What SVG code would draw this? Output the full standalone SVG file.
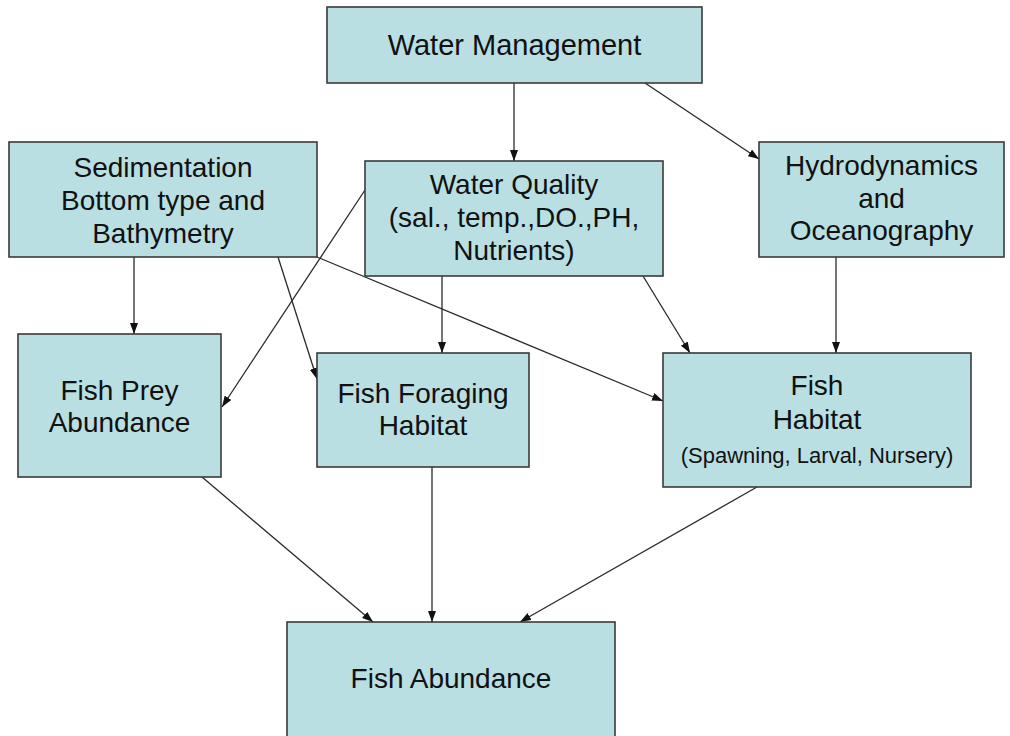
<svg xmlns="http://www.w3.org/2000/svg" width="1010" height="736" viewBox="0 0 1010 736">
<style>
.box{fill:#b9dfe2;stroke:#3a3a3a;stroke-width:1.6}
.t{font-family:"Liberation Sans",Arial,sans-serif;font-size:28px;fill:#111;text-anchor:middle}
.s{font-size:22px}
.c{stroke:#2a2a2a;stroke-width:1.3;fill:none;marker-end:url(#ah)}
</style>
<defs>
<marker id="ah" markerUnits="userSpaceOnUse" markerWidth="11" markerHeight="8" refX="11" refY="4" orient="auto">
<path d="M0,0 L11,4 L0,8 z" fill="#111"/>
</marker>
</defs>
<rect width="1010" height="736" fill="#ffffff"/>
<g id="connectors">
<line class="c" x1="514" y1="83" x2="514" y2="161"/>
<line class="c" x1="645" y1="83" x2="759" y2="159"/>
<line class="c" x1="134" y1="257" x2="134" y2="334"/>
<line class="c" x1="278" y1="257" x2="317" y2="379"/>
<line class="c" x1="317" y1="257" x2="663" y2="401"/>
<line class="c" x1="365" y1="190" x2="222" y2="407"/>
<line class="c" x1="442" y1="276" x2="442" y2="353"/>
<line class="c" x1="643" y1="276" x2="690" y2="353"/>
<line class="c" x1="836" y1="257" x2="836" y2="353"/>
<line class="c" x1="202" y1="477" x2="373" y2="622"/>
<line class="c" x1="432" y1="467" x2="432" y2="622"/>
<line class="c" x1="757" y1="487" x2="520" y2="622"/>
</g>
<g id="water-management">
<rect class="box" x="327" y="7" width="375" height="76"/>
<text class="t" x="514.5" y="55" style="font-size:29px">Water Management</text>
</g>
<g id="sedimentation">
<rect class="box" x="9" y="142" width="308" height="115"/>
<text class="t" x="163" y="177">Sedimentation</text>
<text class="t" x="163" y="210">Bottom type and</text>
<text class="t" x="163" y="243">Bathymetry</text>
</g>
<g id="water-quality">
<rect class="box" x="365" y="161" width="298" height="115"/>
<text class="t" x="514" y="194">Water Quality</text>
<text class="t" x="514" y="227">(sal., temp.,DO.,PH,</text>
<text class="t" x="514" y="260">Nutrients)</text>
</g>
<g id="hydrodynamics">
<rect class="box" x="759" y="142" width="245" height="115"/>
<text class="t" x="881.5" y="175">Hydrodynamics</text>
<text class="t" x="881.5" y="208">and</text>
<text class="t" x="881.5" y="240">Oceanography</text>
</g>
<g id="fish-prey">
<rect class="box" x="18" y="334" width="203" height="143"/>
<text class="t" x="119.5" y="400">Fish Prey</text>
<text class="t" x="119.5" y="432">Abundance</text>
</g>
<g id="fish-foraging">
<rect class="box" x="317" y="353" width="212" height="114"/>
<text class="t" x="423" y="403">Fish Foraging</text>
<text class="t" x="423" y="435">Habitat</text>
</g>
<g id="fish-habitat">
<rect class="box" x="663" y="353" width="308" height="134"/>
<text class="t" x="817" y="395">Fish</text>
<text class="t" x="817" y="429">Habitat</text>
<text class="t s" x="817" y="463">(Spawning, Larval, Nursery)</text>
</g>
<g id="fish-abundance">
<rect class="box" x="287" y="622" width="328" height="130"/>
<text class="t" x="451" y="688">Fish Abundance</text>
</g>
</svg>
